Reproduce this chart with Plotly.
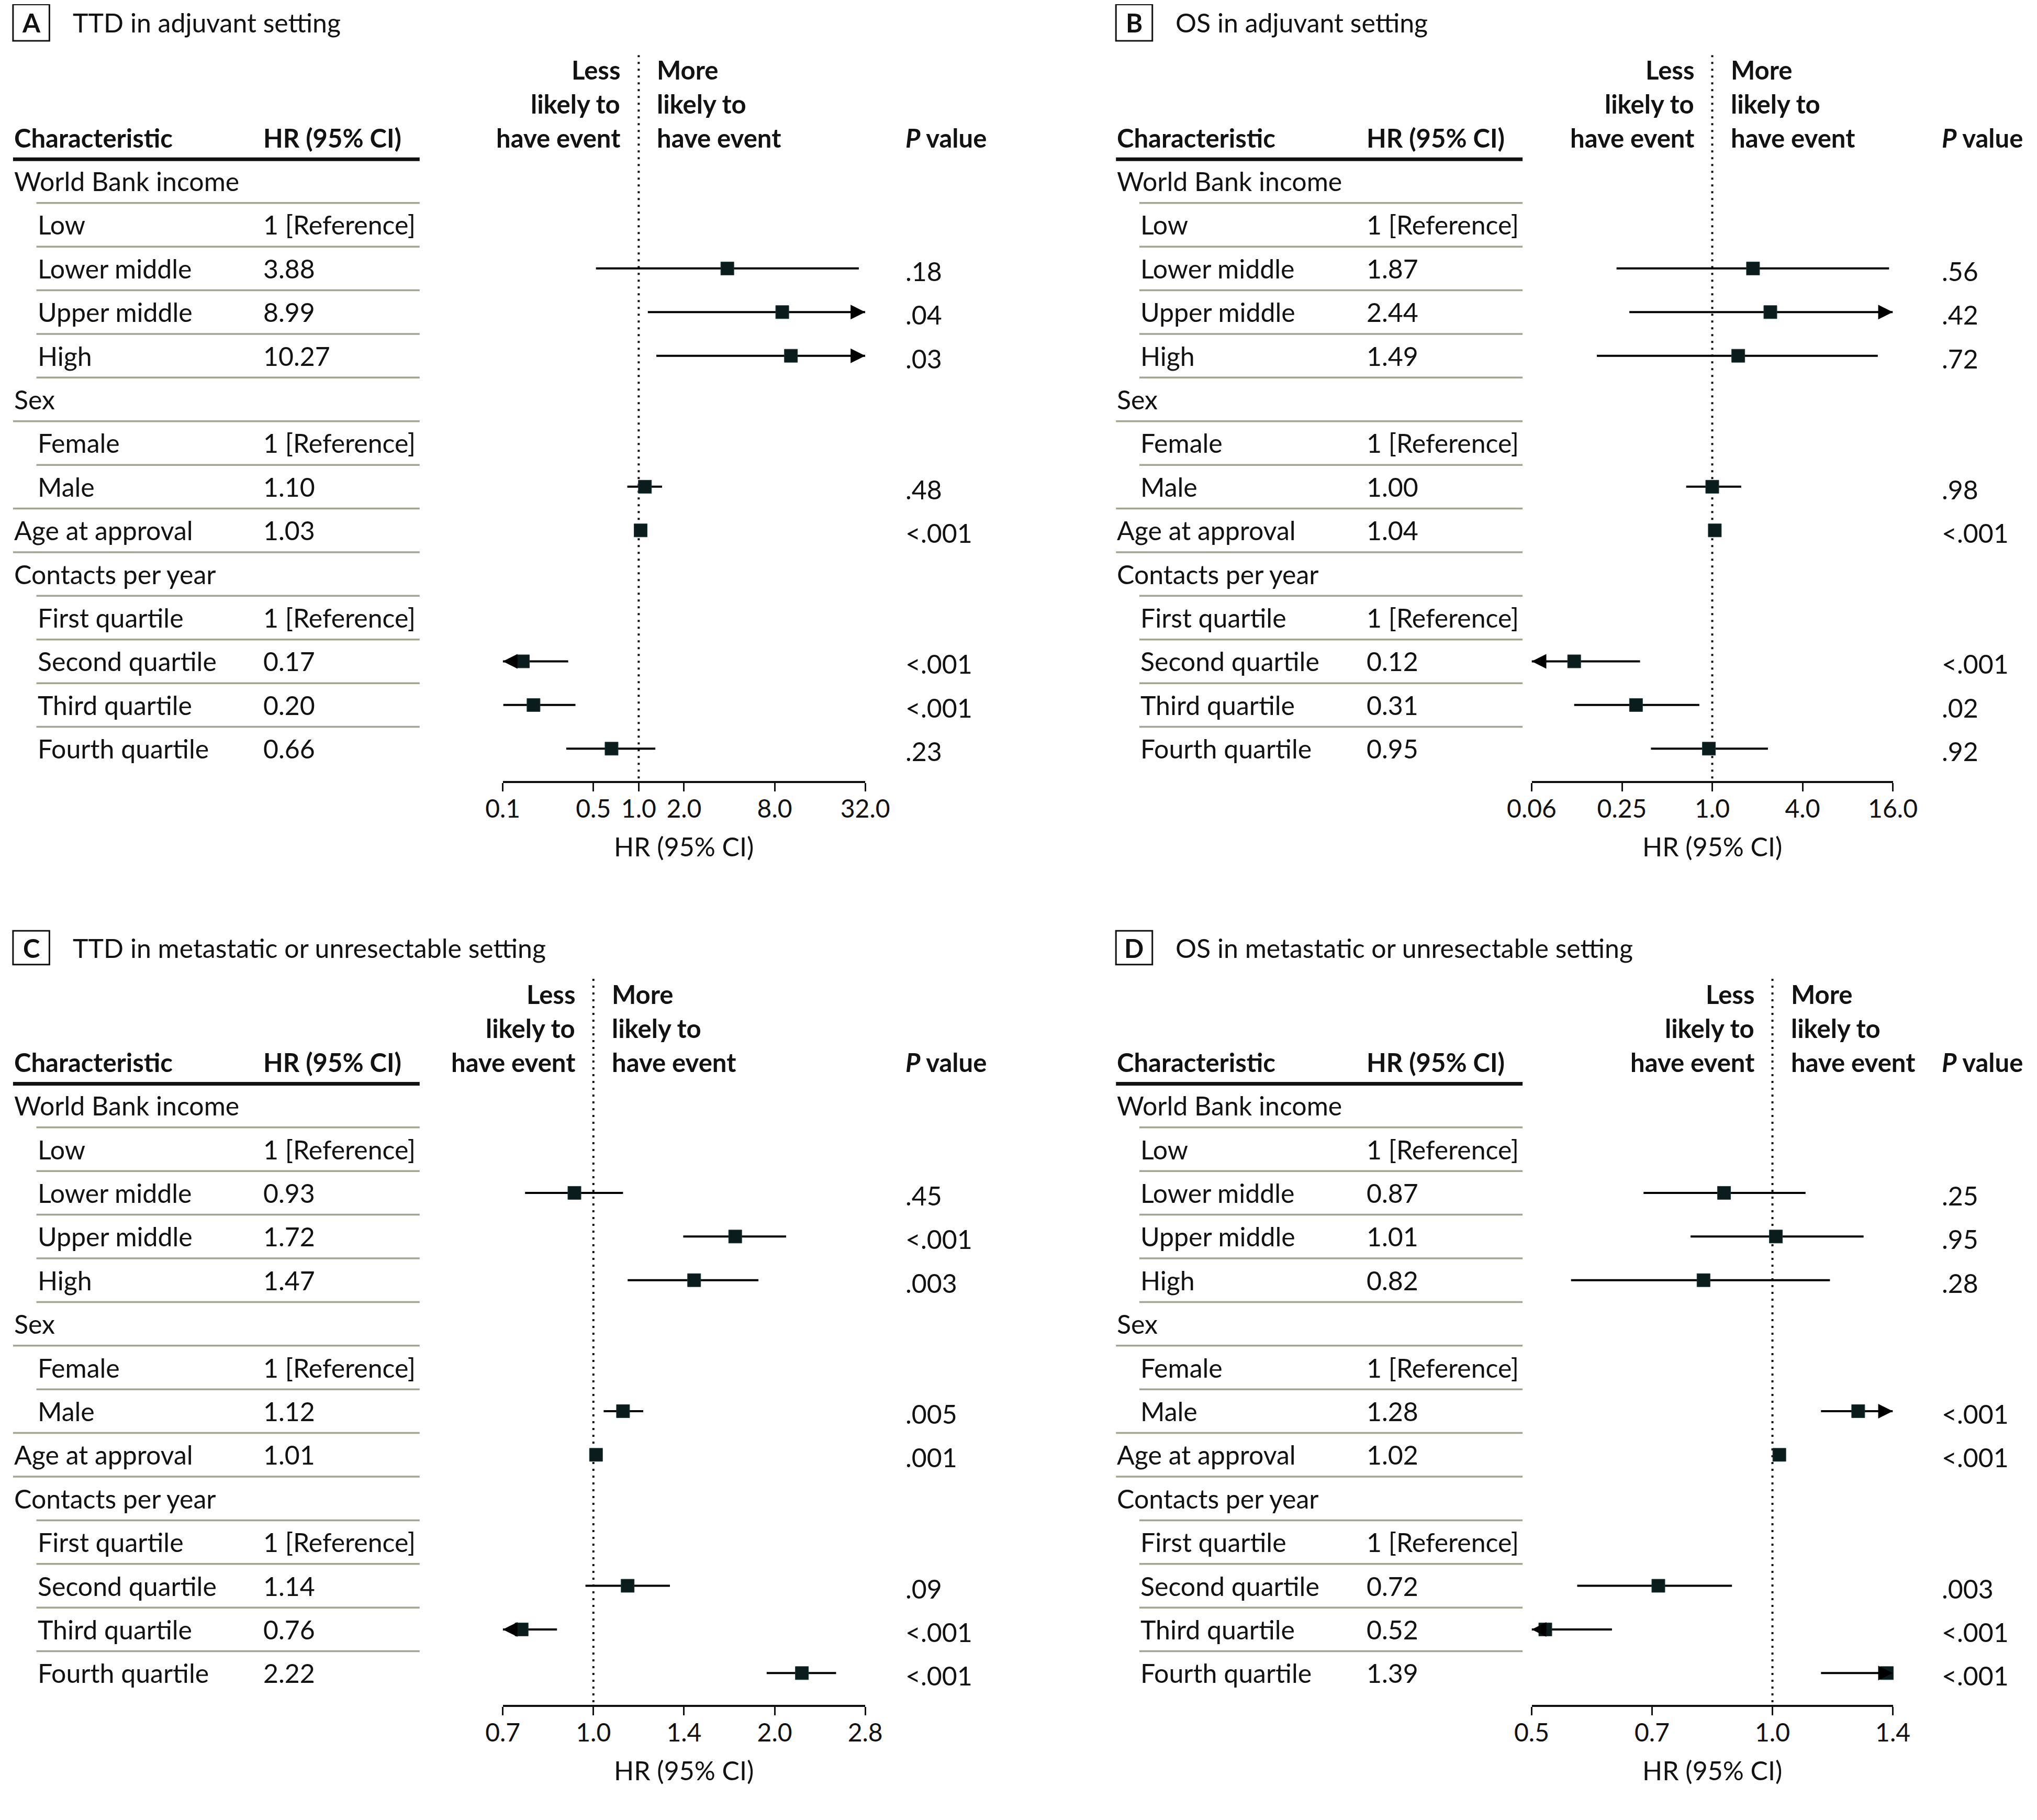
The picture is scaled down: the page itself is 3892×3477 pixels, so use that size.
import math
import plotly.graph_objects as go

# ---------------- data ----------------
characteristics = ["World Bank income", "Low", "Lower middle", "Upper middle", "High",
                   "Sex", "Female", "Male", "Age at approval",
                   "Contacts per year", "First quartile", "Second quartile",
                   "Third quartile", "Fourth quartile"]
is_subgroup = [False, True, True, True, True, False, True, True, False, False, True, True, True, True]
is_reference = [False, True, False, False, False, False, True, False, False, False, True, False, False, False]
# separator rule drawn below rows 0..12: True = full width, False = indented
rule_full = [False, False, False, False, False, True, False, True, True, False, False, False, False]

# Panel A: TTD in adjuvant setting
hr_A = [None, None, 3.88, 8.99, 10.27, None, None, 1.10, 1.03, None, None, 0.17, 0.20, 0.66]
lo_A = [None, None, 0.52, 1.15, 1.31, None, None, 0.84, 1.02, None, None, 0.10, 0.126, 0.33]
hi_A = [None, None, 29.0, 40.0, 40.0, None, None, 1.43, 1.04, None, None, 0.34, 0.38, 1.29]
p_A = ["", "", ".18", ".04", ".03", "", "", ".48", "<.001", "", "", "<.001", "<.001", ".23"]
ticks_A = [0.125, 0.5, 1, 2, 8, 32]
ticklabels_A = ["0.1", "0.5", "1.0", "2.0", "8.0", "32.0"]

# Panel B: OS in adjuvant setting
hr_B = [None, None, 1.87, 2.44, 1.49, None, None, 1.00, 1.04, None, None, 0.12, 0.31, 0.95]
lo_B = [None, None, 0.23, 0.28, 0.17, None, None, 0.67, 1.03, None, None, 0.05, 0.12, 0.39]
hi_B = [None, None, 15.1, 20.0, 12.7, None, None, 1.56, 1.05, None, None, 0.33, 0.82, 2.35]
p_B = ["", "", ".56", ".42", ".72", "", "", ".98", "<.001", "", "", "<.001", ".02", ".92"]
ticks_B = [0.0625, 0.25, 1, 4, 16]
ticklabels_B = ["0.06", "0.25", "1.0", "4.0", "16.0"]

# Panel C: TTD in metastatic or unresectable setting
hr_C = [None, None, 0.93, 1.72, 1.47, None, None, 1.12, 1.01, None, None, 1.14, 0.76, 2.22]
lo_C = [None, None, 0.77, 1.41, 1.14, None, None, 1.04, 1.00, None, None, 0.97, 0.68, 1.94]
hi_C = [None, None, 1.12, 2.09, 1.88, None, None, 1.21, 1.02, None, None, 1.34, 0.87, 2.53]
p_C = ["", "", ".45", "<.001", ".003", "", "", ".005", ".001", "", "", ".09", "<.001", "<.001"]
ticks_C = [0.7071, 1, 1.4142, 2, 2.8284]
ticklabels_C = ["0.7", "1.0", "1.4", "2.0", "2.8"]

# Panel D: OS in metastatic or unresectable setting
hr_D = [None, None, 0.87, 1.01, 0.82, None, None, 1.28, 1.02, None, None, 0.72, 0.52, 1.39]
lo_D = [None, None, 0.69, 0.79, 0.56, None, None, 1.15, 1.01, None, None, 0.57, 0.47, 1.15]
hi_D = [None, None, 1.10, 1.30, 1.18, None, None, 1.45, 1.03, None, None, 0.89, 0.63, 1.68]
p_D = ["", "", ".25", ".95", ".28", "", "", "<.001", "<.001", "", "", ".003", "<.001", "<.001"]
ticks_D = [0.5, 0.7071, 1, 1.4142]
ticklabels_D = ["0.5", "0.7", "1.0", "1.4"]

panel_letters = ["A", "B", "C", "D"]
panel_titles = ["TTD in adjuvant setting", "OS in adjuvant setting",
                "TTD in metastatic or unresectable setting", "OS in metastatic or unresectable setting"]

# ---------------- layout geometry ----------------
W, H = 3892, 3477
U = W / 1568.0  # pixels per layout unit
DX, DY = -3.2, -2.8  # compensate page offset


def px(u):
    return (u + DX) * U / W


def py(u):
    return 1 - (u + DY) * U / H


COLS = [dict(char=10, indent=28, hr=202, rule_end=323, p=696, ax0=387, ax1=666, box0=10, box1=38, title=55),
        dict(char=859, indent=877, hr=1051, rule_end=1172, p=1494, ax0=1179, ax1=1457, box0=859, box1=887, title=904)]
ROWS = [dict(row0=139, axis=600.6, top=42, box0=3, box1=31),
        dict(row0=850.5, axis=1311.6, top=753, box0=716, box1=742)]
STEP = 33.6

FONT = "Lato"
TXT = "#121212"
BODY = 50
HEAD = 49
TICK = 48
MARK = "#0b1c1c"
RULE = "#a3a58f"

panels = [
    dict(hr=hr_A, lo=lo_A, hi=hi_A, p=p_A, ticks=ticks_A, labels=ticklabels_A, c=0, r=0),
    dict(hr=hr_B, lo=lo_B, hi=hi_B, p=p_B, ticks=ticks_B, labels=ticklabels_B, c=1, r=0),
    dict(hr=hr_C, lo=lo_C, hi=hi_C, p=p_C, ticks=ticks_C, labels=ticklabels_C, c=0, r=1),
    dict(hr=hr_D, lo=lo_D, hi=hi_D, p=p_D, ticks=ticks_D, labels=ticklabels_D, c=1, r=1),
]

fig = go.Figure()
annotations = []
shapes = []
layout = {}

for k, pn in enumerate(panels):
    n = k + 1
    C = COLS[pn["c"]]
    R = ROWS[pn["r"]]
    xa = "x" if n == 1 else f"x{n}"
    ya = "y" if n == 1 else f"y{n}"
    xkey = "xaxis" if n == 1 else f"xaxis{n}"
    ykey = "yaxis" if n == 1 else f"yaxis{n}"

    ybot = (R["axis"] - R["row0"]) / STEP
    ytop = (R["top"] - R["row0"]) / STEP
    xmin, xmax = pn["ticks"][0], pn["ticks"][-1]

    layout[xkey] = dict(
        type="log", domain=[px(C["ax0"]), px(C["ax1"])], anchor=ya,
        range=[math.log10(xmin), math.log10(xmax)],
        tickvals=pn["ticks"], ticktext=pn["labels"],
        showline=True, linecolor="#111", linewidth=4,
        ticks="outside", ticklen=16, tickwidth=3, tickcolor="#111",
        ticklabelstandoff=-7,
        showgrid=False, zeroline=False, automargin=False,
        tickfont=dict(family=FONT, size=TICK, color=TXT),
    )
    layout[ykey] = dict(
        domain=[py(R["axis"]), py(R["top"])], anchor=xa,
        range=[ybot, ytop], visible=False, showgrid=False, zeroline=False, automargin=False,
    )

    # reference line at HR = 1
    fig.add_trace(go.Scatter(x=[1, 1], y=[ytop, ybot], mode="lines", xaxis=xa, yaxis=ya,
                             line=dict(color="#111", width=4, dash="4px,9px"),
                             hoverinfo="skip", showlegend=False, cliponaxis=False))

    # CI lines
    cx, cy = [], []
    mx, my = [], []
    for i, v in enumerate(pn["hr"]):
        if v is None:
            continue
        lo, hi = pn["lo"][i], pn["hi"][i]
        cx += [max(lo, xmin), min(hi, xmax), None]
        cy += [i, i, None]
        mx.append(v)
        my.append(i)
        if lo < xmin:
            annotations.append(dict(x=math.log10(xmin), y=i, xref=xa, yref=ya, text="",
                                    showarrow=True, ax=30, ay=0, arrowhead=2, arrowsize=1.4,
                                    arrowwidth=4, arrowcolor="#000"))
        if hi > xmax:
            annotations.append(dict(x=math.log10(xmax), y=i, xref=xa, yref=ya, text="",
                                    showarrow=True, ax=-30, ay=0, arrowhead=2, arrowsize=1.4,
                                    arrowwidth=4, arrowcolor="#000"))
    fig.add_trace(go.Scatter(x=cx, y=cy, mode="lines", xaxis=xa, yaxis=ya,
                             line=dict(color="#000", width=4),
                             hoverinfo="skip", showlegend=False, cliponaxis=False))
    fig.add_trace(go.Scatter(x=mx, y=my, mode="markers", xaxis=xa, yaxis=ya,
                             marker=dict(symbol="square", size=25, color=MARK,
                                         line=dict(width=1, color="#1d3a3a")),
                             hoverinfo="skip", showlegend=False, cliponaxis=False))

    # table text
    for i, name in enumerate(characteristics):
        xcol = C["indent"] if is_subgroup[i] else C["char"]
        annotations.append(dict(x=px(xcol), y=i, xref="paper", yref=ya, text=name,
                                xanchor="left", yanchor="middle", showarrow=False,
                                font=dict(family=FONT, size=BODY, color=TXT)))
        if is_reference[i]:
            hrt = "1 [Reference]"
        elif pn["hr"][i] is not None:
            hrt = f"{pn['hr'][i]:.2f}"
        else:
            hrt = ""
        if hrt:
            annotations.append(dict(x=px(C["hr"]), y=i, xref="paper", yref=ya, text=hrt,
                                    xanchor="left", yanchor="middle", showarrow=False,
                                    font=dict(family=FONT, size=BODY, color=TXT)))
        if pn["p"][i]:
            annotations.append(dict(x=px(C["p"]), y=i + 0.06, xref="paper", yref=ya, text=pn["p"][i],
                                    xanchor="left", yanchor="middle", showarrow=False,
                                    font=dict(family=FONT, size=BODY, color=TXT)))

    # rules
    for i, full in enumerate(rule_full):
        x0 = C["char"] if full else C["indent"]
        shapes.append(dict(type="line", xref="paper", yref=ya, x0=px(x0), x1=px(C["rule_end"]),
                           y0=i + 0.5, y1=i + 0.5, line=dict(color=RULE, width=3.5)))
    shapes.append(dict(type="line", xref="paper", yref=ya, x0=px(C["char"]), x1=px(C["rule_end"]),
                       y0=-0.5, y1=-0.5, line=dict(color="#111", width=7)))

    # header
    hfont = dict(family=FONT, size=HEAD, color=TXT)
    annotations.append(dict(x=px(C["char"]), y=-1.0, xref="paper", yref=ya, text="<b>Characteristic</b>",
                            xanchor="left", yanchor="middle", showarrow=False, font=hfont))
    annotations.append(dict(x=px(C["hr"]), y=-1.0, xref="paper", yref=ya, text="<b>HR (95% CI)</b>",
                            xanchor="left", yanchor="middle", showarrow=False, font=hfont))
    annotations.append(dict(x=px(C["p"]), y=-1.0, xref="paper", yref=ya, text="<b><i>P</i> value</b>",
                            xanchor="left", yanchor="middle", showarrow=False, font=hfont))
    for yy, lt, rt in [(-2.56, "Less", "More"), (-1.78, "likely to", "likely to"), (-1.0, "have event", "have event")]:
        annotations.append(dict(x=0, y=yy, xref=xa, yref=ya, text=f"<b>{lt}</b>", xanchor="right",
                                yanchor="middle", xshift=-33, showarrow=False, font=hfont))
        annotations.append(dict(x=0, y=yy, xref=xa, yref=ya, text=f"<b>{rt}</b>", xanchor="left",
                                yanchor="middle", xshift=33, showarrow=False, font=hfont))

    # axis title
    annotations.append(dict(x=px((C["ax0"] + C["ax1"]) / 2), y=py(R["axis"] + 50.5), xref="paper", yref="paper",
                            text="HR (95% CI)", xanchor="center", yanchor="middle", showarrow=False,
                            font=dict(family=FONT, size=BODY, color=TXT)))

    # panel label box and title
    shapes.append(dict(type="rect", xref="paper", yref="paper", x0=px(C["box0"]), x1=px(C["box1"]),
                       y0=py(R["box1"]), y1=py(R["box0"]), line=dict(color="#111", width=3)))
    annotations.append(dict(x=px((C["box0"] + C["box1"]) / 2), y=py((R["box0"] + R["box1"]) / 2),
                            xref="paper", yref="paper", text=f"<b>{panel_letters[k]}</b>",
                            xanchor="center", yanchor="middle", showarrow=False,
                            font=dict(family=FONT, size=HEAD, color=TXT)))
    annotations.append(dict(x=px(C["title"]), y=py((R["box0"] + R["box1"]) / 2), xref="paper", yref="paper",
                            text=panel_titles[k], xanchor="left", yanchor="middle", showarrow=False,
                            font=dict(family=FONT, size=BODY, color=TXT)))

fig.update_layout(
    template="none",
    width=W, height=H, margin=dict(l=0, r=0, t=0, b=0, pad=0, autoexpand=False),
    paper_bgcolor="white", plot_bgcolor="white",
    showlegend=False, annotations=annotations, shapes=shapes,
    font=dict(family=FONT, color=TXT),
    **layout,
)

fig.write_html("out.html")
